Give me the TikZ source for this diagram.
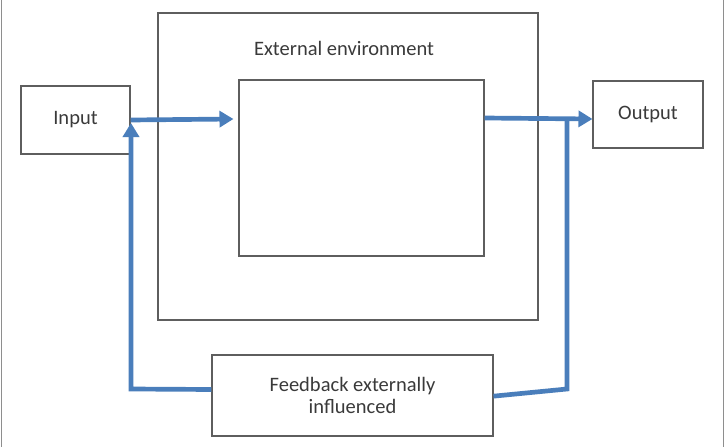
\documentclass[tikz,border=0pt]{standalone}
\usepackage{fontspec}
\setmainfont{Carlito}
\usepackage{tikz}
\usetikzlibrary{arrows.meta,positioning,calc}
\definecolor{flowblue}{HTML}{4A7EBB}
\definecolor{frame}{HTML}{5E5E5E}
\definecolor{textgray}{HTML}{3A3A3A}
\tikzset{
  plainbox/.style={draw=frame, line width=0.9pt, fill=none, align=center,
    inner sep=0pt, font=\fontsize{17.5}{19.5}\selectfont, text=textgray},
  flow/.style={-{Triangle[length=4.2mm, width=4.8mm]}, line width=4pt, draw=flowblue},
  flowline/.style={line width=4pt, draw=flowblue, line join=miter}
}

\begin{document}
\begin{tikzpicture}[x=0.03cm, y=-0.03cm]
    \useasboundingbox (0,0) rectangle (725,447);
    \draw[frame!70, line width=1.4pt] (1.5,0) -- (1.5,447);
    \draw[frame!70, line width=1.4pt] (723.5,0) -- (723.5,447);
    \node[plainbox, minimum width=11.4cm, minimum height=9.21cm] (env) at (348,166.5) {};
    \node[font=\fontsize{17.5}{19.5}\selectfont, text=textgray] (envlabel) at (344,48) {External environment};
    \node[plainbox, minimum width=7.35cm, minimum height=5.28cm] (core) at (361.5,168) {};
    \node[plainbox, minimum width=3.27cm, minimum height=2.04cm] (input) at (75.5,120) {Input};
    \node[plainbox, minimum width=3.3cm, minimum height=2.01cm] (output) at (648,114.5) {Output};
    \node[plainbox, minimum width=8.43cm, minimum height=2.43cm] (feedback) at (352.5,395.5) {Feedback externally\\influenced};
    \coordinate (fbleft) at (131,389);
    \coordinate (fbright) at (567,389);
    \coordinate (outjoin) at (567,119);
    \draw[flow] (input.east |- 0,120) -- ($(core.west |- 0,119)+(-5,0)$);
    \draw[flow] ([yshift=0.18cm]feedback.west) -- (fbleft) -- (131,123);
    \draw[flow] (core.east |- 0,118) -- (output.west |- 0,119);
    \draw[flowline] ([yshift=-0.02cm]feedback.east) -- (fbright) -- (outjoin);
\end{tikzpicture}
\end{document}
